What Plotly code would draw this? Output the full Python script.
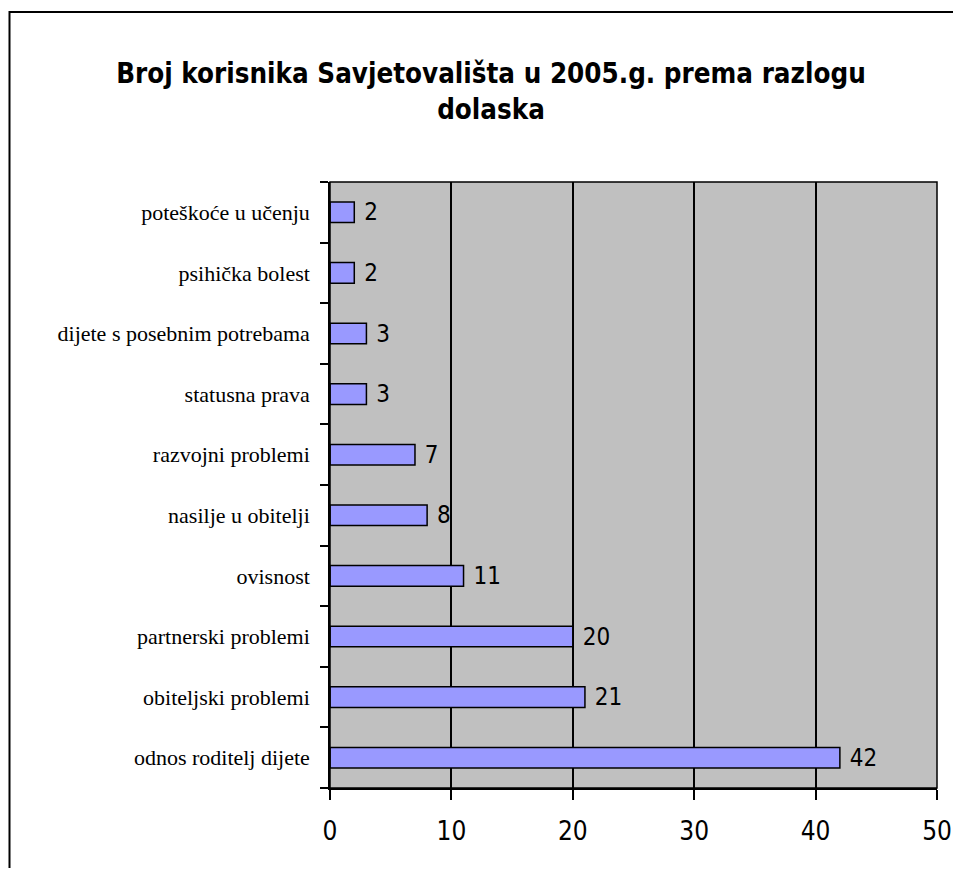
import plotly.graph_objects as go

categories = [
    "odnos roditelj dijete",
    "obiteljski problemi",
    "partnerski problemi",
    "ovisnost",
    "nasilje u obitelji",
    "razvojni problemi",
    "statusna prava",
    "dijete s posebnim potrebama",
    "psihička bolest",
    "poteškoće u učenju",
]
values = [42, 21, 20, 11, 8, 7, 3, 3, 2, 2]
x_ticks = [0, 10, 20, 30, 40, 50]
title_text = "Broj korisnika Savjetovališta u 2005.g. prema razlogu<br>dolaska"

# page body has an 8px margin, so the figure is drawn 8px in from the top-left
OFF = 8
W, H = 961 - 2 * OFF, 876 - 2 * OFF
L, T = 330 - OFF, 182 - OFF
R = W - (937 - OFF)
B = H - (788 - OFF)
pw = W - L - R
ph = H - T - B

def px_x(x):
    return (x - OFF - L) / pw

def px_y(y):
    return 1 - (y - OFF - T) / ph

narrow = "DejaVu Sans Condensed, Liberation Sans Narrow, Arial Narrow, Liberation Sans, Arial"

fig = go.Figure(go.Bar(
    y=categories,
    x=values,
    orientation="h",
    marker=dict(color="#9999ff", line=dict(color="#000000", width=1.5)),
    text=[" " + str(v) for v in values],
    textposition="outside",
    constraintext="none",
    textfont=dict(family=narrow, size=24, color="#000000"),
    cliponaxis=False,
))

fig.update_layout(
    width=W, height=H,
    margin=dict(l=L, r=R, t=T, b=B, autoexpand=False),
    paper_bgcolor="#ffffff",
    plot_bgcolor="#c0c0c0",
    showlegend=False,
    bargap=0.66,
    title=dict(
        text=title_text,
        font=dict(family=narrow, size=27.5, color="#000000", weight="bold"),
        x=(491 - OFF) / W, xanchor="center", xref="container",
        y=1 - (83 - OFF) / H, yanchor="middle", yref="container",
    ),
    xaxis=dict(
        range=[0, 50],
        tickvals=x_ticks,
        ticktext=[str(t) for t in x_ticks],
        showgrid=True,
        gridcolor="#000000",
        gridwidth=1.5,
        showline=True,
        linecolor="#000000",
        linewidth=1.5,
        ticks="outside",
        ticklen=10,
        tickwidth=1.5,
        tickcolor="#000000",
        ticklabelstandoff=9,
        tickfont=dict(family=narrow, size=26, color="#000000"),
        zeroline=False,
        automargin=False,
        fixedrange=True,
    ),
    yaxis=dict(
        categoryorder="array",
        categoryarray=categories,
        showline=True,
        linecolor="#000000",
        linewidth=1.5,
        ticks="outside",
        tickson="boundaries",
        ticklen=8,
        tickwidth=1.5,
        tickcolor="#000000",
        ticklabelstandoff=14,
        tickfont=dict(family="Liberation Serif, Times New Roman, serif", size=22, color="#000000"),
        showgrid=False,
        automargin=False,
        fixedrange=True,
    ),
    shapes=[
        dict(type="rect", xref="paper", yref="paper",
             x0=px_x(9.5), x1=px_x(990), y0=px_y(900), y1=px_y(12),
             line=dict(color="#000000", width=2), fillcolor="rgba(0,0,0,0)", layer="below"),
        dict(type="rect", xref="paper", yref="paper",
             x0=0, x1=1, y0=0, y1=1,
             line=dict(color="#000000", width=1.5), fillcolor="rgba(0,0,0,0)", layer="above"),
    ],
)

fig.write_html("out.html")
